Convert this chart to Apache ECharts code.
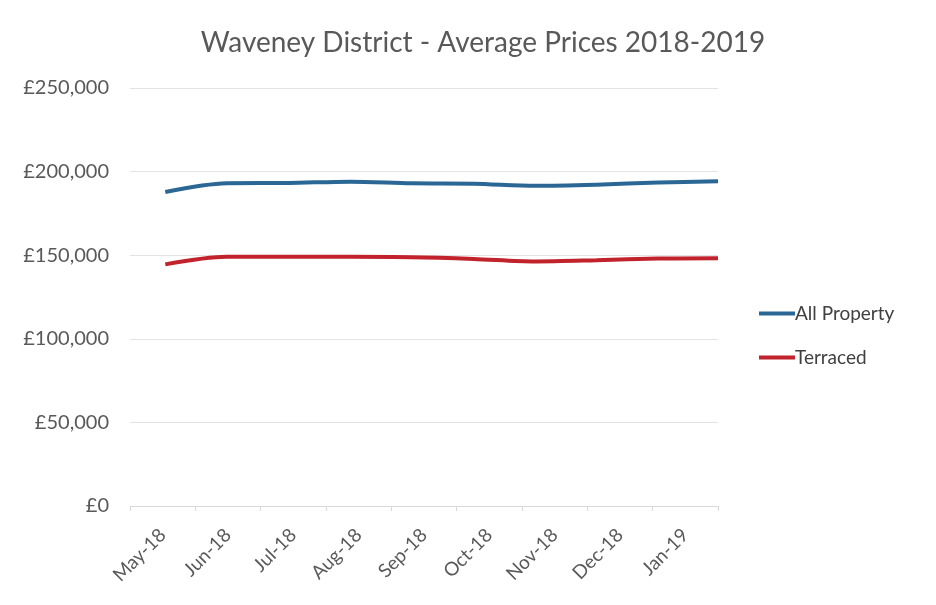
<!DOCTYPE html>
<html><head><meta charset="utf-8">
<script src="https://cdn.jsdelivr.net/npm/echarts@6/dist/echarts.min.js"></script>
<style>html,body{margin:0;padding:0;background:#fff}#c{width:936px;height:605px}</style>
</head><body><div id="c"></div>
<script>
const categories = ['May-18','Jun-18','Jul-18','Aug-18','Sep-18','Oct-18','Nov-18','Dec-18','Jan-19'];
// positions of the data points along the month axis (in months from start of May-18)
const pointPos = [0.54, 1.48, 2.43, 3.37, 4.31, 5.26, 6.20, 7.14, 8.09, 9.0];
const allProperty = [187800, 193000, 193200, 194000, 193000, 192800, 191500, 192200, 193500, 194200];
const terraced = [144500, 149000, 149000, 149000, 148800, 147800, 146300, 147000, 148000, 148200];
const yTicks = [0, 50000, 100000, 150000, 200000, 250000];

const pair = (xs, ys) => xs.map((x, i) => [x, ys[i]]);
const fmt = v => '£' + v.toLocaleString('en-GB');
const font = 'Lato, sans-serif';

const chart = echarts.init(document.getElementById('c'));
chart.setOption({
  animation: false,
  title: {
    text: 'Waveney District - Average Prices 2018-2019',
    left: 478, top: 24, textAlign: 'center',
    textStyle: { fontFamily: font, fontSize: 28, fontWeight: 'normal', color: '#595959' }
  },
  legend: {
    orient: 'vertical', left: 754, top: 299, itemGap: 25,
    itemWidth: 36, itemHeight: 4,
    icon: 'rect',
    textStyle: { fontFamily: font, fontSize: 19, color: '#404040', padding: [0, 0, 0, -5] },
    data: ['All Property', 'Terraced']
  },
  grid: { left: 130, right: 218, top: 88, bottom: 99 },
  xAxis: [
    {
      type: 'category', data: categories, boundaryGap: true,
      axisLine: { lineStyle: { color: '#d9d9d9', width: 1 } },
      axisTick: { show: true, length: 5, lineStyle: { color: '#d9d9d9' } },
      axisLabel: { rotate: 45, fontFamily: font, fontSize: 19, color: '#595959', margin: 26 }
    },
    {
      type: 'value', min: 0, max: 9, show: false
    }
  ],
  yAxis: {
    type: 'value', min: 0, max: 250000, interval: 50000,
    axisLine: { show: false }, axisTick: { show: false },
    splitLine: { lineStyle: { color: '#e3e3e3', width: 1 } },
    axisLabel: { formatter: fmt, fontFamily: font, fontSize: 20, color: '#595959', margin: 21 }
  },
  series: [
    {
      name: 'All Property', type: 'line', xAxisIndex: 1, data: pair(pointPos, allProperty),
      showSymbol: false, smooth: 0.3, lineStyle: { width: 4, color: '#2a6794' },
      itemStyle: { color: '#2a6794' }
    },
    {
      name: 'Terraced', type: 'line', xAxisIndex: 1, data: pair(pointPos, terraced),
      showSymbol: false, smooth: 0.3, lineStyle: { width: 4, color: '#c1222b' },
      itemStyle: { color: '#c1222b' }
    }
  ]
});
</script></body></html>
